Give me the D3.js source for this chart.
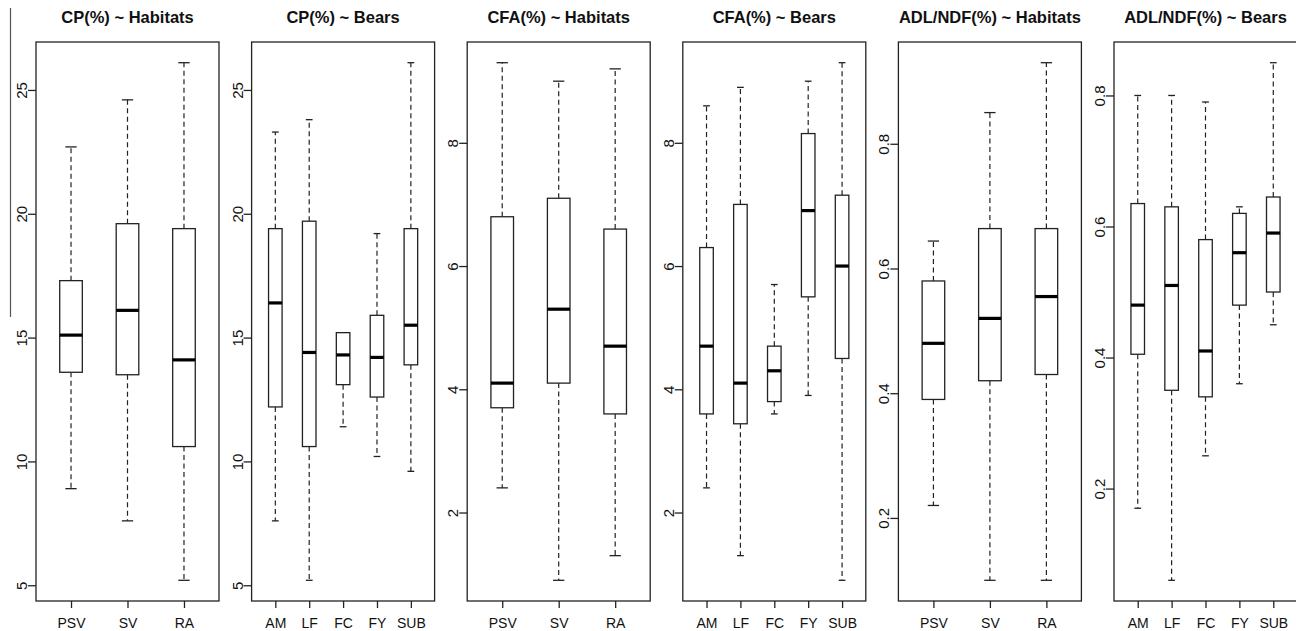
<!DOCTYPE html>
<html>
<head>
<meta charset="utf-8">
<script src="https://cdn.jsdelivr.net/npm/d3@7"></script>
<style>
    body { margin: 0; background: #fff; }
    svg { display: block; font-family: "Liberation Sans", Arial, sans-serif; }
</style>
</head>
<body>
<div id="canva"></div>
<script>
const habitats = ["PSV", "SV", "RA"];
const bears = ["AM", "LF", "FC", "FY", "SUB"];

// each row: [lower whisker, Q1, median, Q3, upper whisker]
const cpHabitats = [
    [8.9, 13.6, 15.1, 17.3, 22.7],
    [7.6, 13.5, 16.1, 19.6, 24.6],
    [5.2, 10.6, 14.1, 19.4, 26.1]
];
const cpBears = [
    [7.6, 12.2, 16.4, 19.4, 23.3],
    [5.2, 10.6, 14.4, 19.7, 23.8],
    [11.4, 13.1, 14.3, 15.2, 15.2],
    [10.2, 12.6, 14.2, 15.9, 19.2],
    [9.6, 13.9, 15.5, 19.4, 26.1]
];
const cfaHabitats = [
    [2.4, 3.7, 4.1, 6.8, 9.3],
    [0.9, 4.1, 5.3, 7.1, 9.0],
    [1.3, 3.6, 4.7, 6.6, 9.2]
];
const cfaBears = [
    [2.4, 3.6, 4.7, 6.3, 8.6],
    [1.3, 3.44, 4.1, 7.0, 8.9],
    [3.6, 3.8, 4.3, 4.7, 5.7],
    [3.9, 5.5, 6.9, 8.15, 9.0],
    [0.9, 4.5, 6.0, 7.15, 9.3]
];
const adlHabitats = [
    [0.22, 0.39, 0.48, 0.58, 0.644],
    [0.1, 0.42, 0.52, 0.664, 0.85],
    [0.1, 0.43, 0.555, 0.664, 0.93]
];
const adlBears = [
    [0.17, 0.405, 0.48, 0.635, 0.8],
    [0.06, 0.35, 0.51, 0.63, 0.8],
    [0.25, 0.34, 0.41, 0.58, 0.79],
    [0.36, 0.48, 0.56, 0.62, 0.63],
    [0.45, 0.5, 0.59, 0.645, 0.85]
];

const cpTicks = [5, 10, 15, 20, 25];
const cfaTicks = [2, 4, 6, 8];
const adlTicks = [0.2, 0.4, 0.6, 0.8];

const titles = [
    "CP(%) ~ Habitats", "CP(%) ~ Bears",
    "CFA(%) ~ Habitats", "CFA(%) ~ Bears",
    "ADL/NDF(%) ~ Habitats", "ADL/NDF(%) ~ Bears"
];

const panels = [
    { cats: habitats, stats: cpHabitats, ticks: cpTicks },
    { cats: bears, stats: cpBears, ticks: cpTicks },
    { cats: habitats, stats: cfaHabitats, ticks: cfaTicks },
    { cats: bears, stats: cfaBears, ticks: cfaTicks },
    { cats: habitats, stats: adlHabitats, ticks: adlTicks },
    { cats: bears, stats: adlBears, ticks: adlTicks }
];

const width = 1296;
const height = 631;
const plotTop = 42;
const plotBottom = 601;
const plotW = 183;
const ink = "#222";

const svg = d3.select("#canva").append("svg")
    .attr("width", width)
    .attr("height", height);

// stray rule at the far left of the scan
svg.append("line")
    .attr("x1", 10.5).attr("x2", 10.5)
    .attr("y1", 8).attr("y2", 317)
    .attr("stroke", "#555")
    .attr("stroke-width", 1.2);

panels.forEach((p, i) => {
    const left = 36 + i * 215.6;
    const n = p.cats.length;

    const x = d3.scaleLinear()
        .domain([0.5 - 0.04 * n, n + 0.5 + 0.04 * n])
        .range([left, left + plotW]);

    const lo = d3.min(p.stats, d => d[0]);
    const hi = d3.max(p.stats, d => d[4]);
    const pad = (hi - lo) * 0.04;
    const y = d3.scaleLinear()
        .domain([lo - pad, hi + pad])
        .range([plotBottom, plotTop]);

    const g = svg.append("g");

    const half = x(1.2) - x(1);
    const cap = half / 2;

    const boxes = g.selectAll("g.box")
        .data(p.stats)
        .join("g")
        .attr("class", "box");

    // whiskers
    boxes.append("line")
        .attr("x1", (d, j) => x(j + 1)).attr("x2", (d, j) => x(j + 1))
        .attr("y1", d => y(d[3])).attr("y2", d => y(d[4]))
        .attr("stroke", ink).attr("stroke-width", 1.2)
        .attr("stroke-dasharray", "5,3.5");
    boxes.append("line")
        .attr("x1", (d, j) => x(j + 1)).attr("x2", (d, j) => x(j + 1))
        .attr("y1", d => y(d[1])).attr("y2", d => y(d[0]))
        .attr("stroke", ink).attr("stroke-width", 1.2)
        .attr("stroke-dasharray", "5,3.5");

    // staples
    [0, 4].forEach(k => {
        boxes.append("line")
            .attr("x1", (d, j) => x(j + 1) - cap).attr("x2", (d, j) => x(j + 1) + cap)
            .attr("y1", d => y(d[k])).attr("y2", d => y(d[k]))
            .attr("stroke", ink).attr("stroke-width", 1.3);
    });

    boxes.append("rect")
        .attr("x", (d, j) => x(j + 1) - half)
        .attr("y", d => y(d[3]))
        .attr("width", half * 2)
        .attr("height", d => y(d[1]) - y(d[3]))
        .attr("fill", "#fff")
        .attr("stroke", ink)
        .attr("stroke-width", 1.3);

    boxes.append("line")
        .attr("x1", (d, j) => x(j + 1) - half).attr("x2", (d, j) => x(j + 1) + half)
        .attr("y1", d => y(d[2])).attr("y2", d => y(d[2]))
        .attr("stroke", "#000").attr("stroke-width", 3.2);

    // frame
    g.append("rect")
        .attr("x", left).attr("y", plotTop)
        .attr("width", plotW).attr("height", plotBottom - plotTop)
        .attr("fill", "none")
        .attr("stroke", ink)
        .attr("stroke-width", 1.3);

    const xAxis = g.append("g")
        .attr("transform", `translate(0, ${plotBottom})`)
        .call(d3.axisBottom(x)
            .tickValues(d3.range(1, n + 1))
            .tickFormat(d => p.cats[d - 1])
            .tickSize(7));
    xAxis.select(".domain").remove();
    xAxis.selectAll("line").attr("stroke", ink).attr("stroke-width", 1.3);
    xAxis.selectAll("text")
        .attr("y", 27)
        .attr("dy", 0)
        .attr("fill", "#111")
        .style("font-size", "14px")
        .style("font-family", "'Liberation Sans', Arial, sans-serif");

    const yAxis = g.append("g")
        .attr("transform", `translate(${left}, 0)`)
        .call(d3.axisLeft(y)
            .tickValues(p.ticks)
            .tickSize(8));
    yAxis.select(".domain").remove();
    yAxis.selectAll("line").attr("stroke", ink).attr("stroke-width", 1.3);
    yAxis.selectAll("text")
        .attr("transform", "rotate(-90)")
        .attr("x", 0)
        .attr("y", -9)
        .attr("dy", 0)
        .attr("text-anchor", "middle")
        .attr("fill", "#111")
        .style("font-size", "15px")
        .style("font-family", "'Liberation Sans', Arial, sans-serif");

    svg.append("text")
        .attr("x", left + plotW / 2)
        .attr("y", 23)
        .attr("text-anchor", "middle")
        .style("font-size", "16.5px")
        .style("font-weight", "bold")
        .attr("fill", "#111")
        .text(titles[i]);
});
</script>
</body>
</html>
